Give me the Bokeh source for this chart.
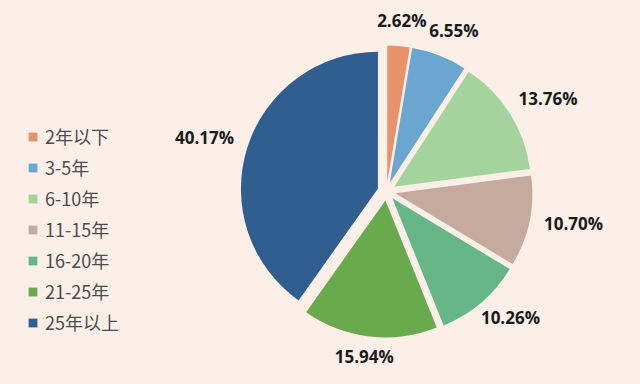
import math
from bokeh.plotting import figure
from bokeh.models import ColumnDataSource, Range1d, Legend, LegendItem, GlobalInlineStyleSheet
from bokeh.core.properties import value
from bokeh.embed import file_html
from bokeh.resources import INLINE

# ---- data ----
categories = ["2年以下", "3-5年", "6-10年", "11-15年", "16-20年", "21-25年", "25年以上"]
shares = [2.62, 6.55, 13.76, 10.70, 10.26, 15.94, 40.17]
colors = ["#E8926A", "#6BA6D0", "#A4D39D", "#C5AB9D", "#67B687", "#6AAA4E", "#2F5E8F"]

BG = "#FBEFE8"
W, H = 624, 368
cx, cy = 394, 185      # pie centre (data units = px, y up)
R = 137                # pie radius
EXPLODE = 9            # offset of each slice
LABEL_D = 161          # distance of label anchor from centre
CHAR_W, TEXT_H = 10, 16

total = sum(shares)
xs, ys, starts, ends, lx, ly, labels = [], [], [], [], [], [], []
cum = 0.0
for s in shares:
    t0 = cum / total * 2 * math.pi          # clockwise from 12 o'clock
    t1 = (cum + s) / total * 2 * math.pi
    tm = (t0 + t1) / 2
    cum += s
    dx, dy = math.sin(tm), math.cos(tm)
    xs.append(cx + EXPLODE * dx)
    ys.append(cy + EXPLODE * dy)
    starts.append(math.pi / 2 - t0)
    ends.append(math.pi / 2 - t1)
    lab = f"{s:.2f}%"
    w = CHAR_W * len(lab)
    lx.append(cx + LABEL_D * dx + w / 2 * dx)
    ly.append(cy + 3 + LABEL_D * dy + TEXT_H / 2 * dy)
    labels.append(lab)

src = ColumnDataSource(dict(x=xs, y=ys, start=starts, end=ends, color=colors,
                            cat=categories, lx=lx, ly=ly, lab=labels))

p = figure(width=W, height=H, output_backend="svg", toolbar_location=None,
           x_range=Range1d(8, 8 + W), y_range=Range1d(8, 8 + H),
           min_border=0, outline_line_color=None,
           background_fill_color=BG, border_fill_color=BG)
p.axis.visible = False
p.grid.visible = False

wr = p.wedge(x="x", y="y", radius=R, start_angle="start", end_angle="end",
             direction="clock", fill_color="color", line_color=None, source=src)

p.text(x="lx", y="ly", text="lab", source=src, text_align="center",
       text_baseline="middle", text_font=value("Open Sans"), text_font_style="bold",
       text_font_size="17px", text_color="#1A1A1A")

items = [LegendItem(label=c, renderers=[wr], index=i) for i, c in enumerate(categories)]
legend = Legend(items=items, location=(27, 33), orientation="vertical",
                glyph_width=11, glyph_height=11, label_height=20, spacing=5,
                label_standoff=7, padding=0, margin=0,
                border_line_alpha=0, background_fill_alpha=0,
                label_text_font="Noto Sans CJK SC", label_text_font_size="18px",
                label_text_color="#4C4C4C", label_text_baseline="middle")
p.add_layout(legend, "center")

p.stylesheets.append(GlobalInlineStyleSheet(css=f"body {{ background: {BG}; }}"))

open("out.html", "w").write(file_html(p, INLINE))
